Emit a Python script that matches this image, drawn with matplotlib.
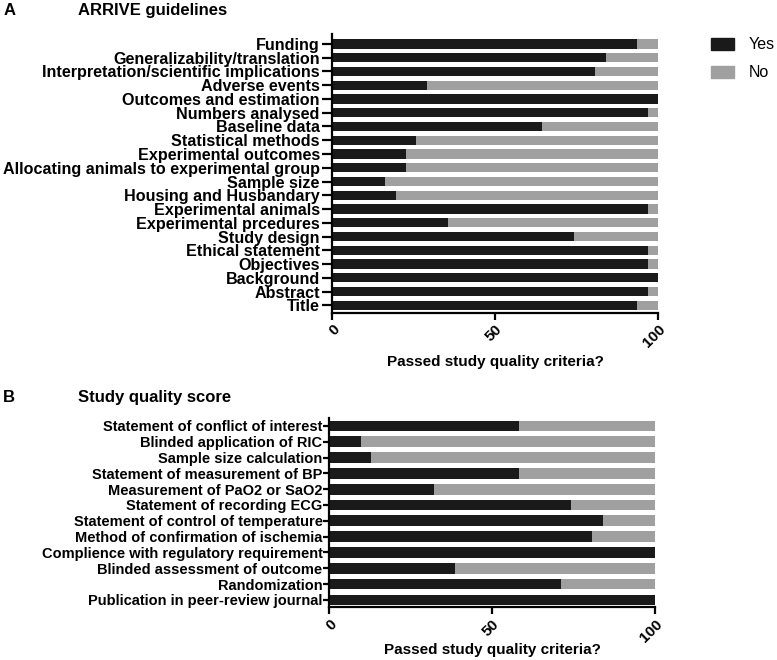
import matplotlib
matplotlib.use("Agg")
import matplotlib.pyplot as plt
from matplotlib.patches import Patch

plt.rcParams['font.family'] = ['Liberation Sans', 'DejaVu Sans']

# Panel A: ARRIVE guidelines, % of studies that passed (top to bottom)
arrive_items = [
    'Funding', 'Generalizability/translation', 'Interpretation/scientific implications',
    'Adverse events', 'Outcomes and estimation', 'Numbers analysed', 'Baseline data',
    'Statistical methods', 'Experimental outcomes', 'Allocating animals to experimental group',
    'Sample size', 'Housing and Husbandary', 'Experimental animals', 'Experimental prcedures',
    'Study design', 'Ethical statement', 'Objectives', 'Background', 'Abstract', 'Title',
]
arrive_yes = [93.5, 83.9, 80.6, 29.0, 100, 96.8, 64.5, 25.8, 22.6, 22.6,
              16.1, 19.4, 96.8, 35.5, 74.2, 96.8, 96.8, 100, 96.8, 93.5]

# Panel B: study quality score
quality_items = [
    'Statement of conflict of interest', 'Blinded application of RIC', 'Sample size calculation',
    'Statement of measurement of BP', 'Measurement of PaO2 or SaO2', 'Statement of recording ECG',
    'Statement of control of temperature', 'Method of confirmation of ischemia',
    'Complience with regulatory requirement', 'Blinded assessment of outcome',
    'Randomization', 'Publication in peer-review journal',
]
quality_yes = [58.1, 9.7, 12.9, 58.1, 32.3, 74.2, 83.9, 80.6, 100, 38.7, 71.0, 100]

x_ticks = [0, 50, 100]
YES_COLOR = '#1a1a1a'
NO_COLOR = '#a0a0a0'


def stacked_panel(ax, items, yes, tick_len, tick_pad, label_size, xlabel_pad):
    n = len(items)
    pos = list(range(n - 1, -1, -1))
    no = [100 - v for v in yes]
    ax.barh(pos, yes, height=0.68, color=YES_COLOR, edgecolor='none')
    ax.barh(pos, no, left=yes, height=0.68, color=NO_COLOR, edgecolor='none')
    ax.set_yticks(pos)
    ax.set_yticklabels(items, fontsize=label_size, fontweight='bold')
    ax.set_xlim(0, 100)
    ax.set_xticks(x_ticks)
    ax.set_xticklabels([str(t) for t in x_ticks], rotation=45, ha='right',
                       rotation_mode='anchor', fontsize=11, fontweight='bold')
    ax.set_xlabel('Passed study quality criteria?', fontsize=11, fontweight='bold',
                  labelpad=xlabel_pad)
    for side in ('top', 'right'):
        ax.spines[side].set_visible(False)
    for side in ('left', 'bottom'):
        ax.spines[side].set_linewidth(1.6)
    ax.tick_params(axis='y', length=tick_len, width=1.6, pad=tick_pad)
    ax.tick_params(axis='x', length=5, width=1.6, pad=2)


fig = plt.figure(figsize=(7.77, 6.6), dpi=100)

ax_a = fig.add_axes([0.4277, 0.526, 0.4192, 0.423])
stacked_panel(ax_a, arrive_items, arrive_yes, 7, 2, 11.6, 3)
ax_a.set_ylim(-0.55, 19.75)

ax_b = fig.add_axes([0.4237, 0.0803, 0.4193, 0.2864])
stacked_panel(ax_b, quality_items, quality_yes, 4.3, 0.5, 10.5, -1)
ax_b.set_ylim(-0.45, 11.5)

fig.text(0.004, 0.996, 'A', fontsize=12, fontweight='bold', va='top')
fig.text(0.100, 0.996, 'ARRIVE guidelines', fontsize=12, fontweight='bold', va='top')
fig.text(0.004, 0.409, 'B', fontsize=12, fontweight='bold', va='top')
fig.text(0.100, 0.409, 'Study quality score', fontsize=12, fontweight='bold', va='top')

handles = [Patch(color=YES_COLOR, label='Yes'), Patch(color=NO_COLOR, label='No')]
fig.legend(handles=handles, loc='upper left', bbox_to_anchor=(0.896, 0.965),
           frameon=False, fontsize=11.5, handlelength=1.45, handleheight=0.75,
           labelspacing=0.8, handletextpad=0.95)

fig.savefig('out.png', dpi=100)
